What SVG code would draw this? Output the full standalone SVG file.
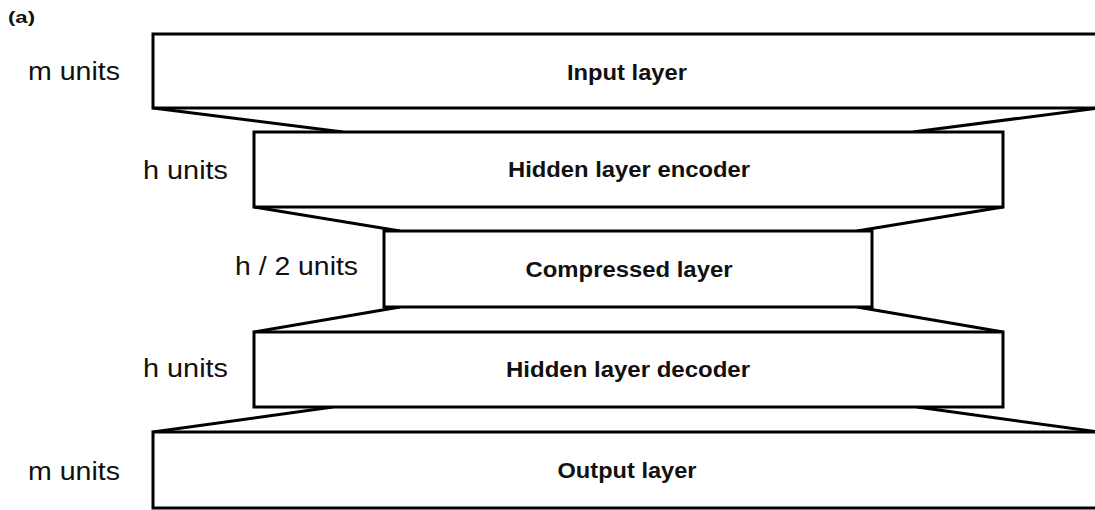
<svg xmlns="http://www.w3.org/2000/svg" width="1095" height="510" viewBox="0 0 1095 510">
  <style>
    .box { fill: #ffffff; stroke: #000000; stroke-width: 3; }
    .link { fill: none; stroke: #000000; stroke-width: 3; stroke-linejoin: round; }
    .name { font-family: "Liberation Sans", Arial, sans-serif; font-weight: bold; font-size: 22px; fill: #111111; }
    .units { font-family: "Liberation Sans", Arial, sans-serif; font-size: 25px; fill: #111111; }
    .tag { font-family: "Liberation Sans", Arial, sans-serif; font-weight: bold; font-size: 17px; fill: #111111; }
  </style>
  <rect width="1095" height="510" fill="#ffffff"/>

  <text class="tag" x="8" y="23" textLength="27" lengthAdjust="spacingAndGlyphs">(a)</text>

  <!-- tapering connectors between successive layers -->
  <g id="connectors">
    <line class="link" x1="153" y1="108" x2="343" y2="132"/>
    <line class="link" x1="1098" y1="108" x2="913" y2="132"/>
    <line class="link" x1="254" y1="207" x2="400" y2="231"/>
    <line class="link" x1="1003" y1="207" x2="857" y2="231"/>
    <line class="link" x1="400" y1="307" x2="254" y2="332"/>
    <line class="link" x1="857" y1="307" x2="1003" y2="332"/>
    <line class="link" x1="333" y1="407" x2="153" y2="432"/>
    <line class="link" x1="917" y1="407" x2="1098" y2="432"/>
  </g>

  <g id="input-layer">
    <rect class="box" x="153" y="34" width="960" height="74"/>
    <text class="name" x="627" y="80" text-anchor="middle" textLength="120" lengthAdjust="spacingAndGlyphs">Input layer</text>
    <text class="units" x="28" y="80" textLength="92" lengthAdjust="spacingAndGlyphs">m units</text>
  </g>

  <g id="hidden-encoder">
    <rect class="box" x="254" y="132" width="749" height="75"/>
    <text class="name" x="629" y="177" text-anchor="middle" textLength="242" lengthAdjust="spacingAndGlyphs">Hidden layer encoder</text>
    <text class="units" x="143" y="179" textLength="85" lengthAdjust="spacingAndGlyphs">h units</text>
  </g>

  <g id="compressed-layer">
    <rect class="box" x="384" y="231" width="488" height="76"/>
    <text class="name" x="629" y="277" text-anchor="middle" textLength="207" lengthAdjust="spacingAndGlyphs">Compressed layer</text>
    <text class="units" x="235" y="275" textLength="123" lengthAdjust="spacingAndGlyphs">h / 2 units</text>
  </g>

  <g id="hidden-decoder">
    <rect class="box" x="254" y="332" width="749" height="75"/>
    <text class="name" x="628" y="377" text-anchor="middle" textLength="244" lengthAdjust="spacingAndGlyphs">Hidden layer decoder</text>
    <text class="units" x="143" y="377" textLength="85" lengthAdjust="spacingAndGlyphs">h units</text>
  </g>

  <g id="output-layer">
    <rect class="box" x="153" y="432" width="960" height="76"/>
    <text class="name" x="627" y="478" text-anchor="middle" textLength="139" lengthAdjust="spacingAndGlyphs">Output layer</text>
    <text class="units" x="28" y="480" textLength="92" lengthAdjust="spacingAndGlyphs">m units</text>
  </g>
</svg>
